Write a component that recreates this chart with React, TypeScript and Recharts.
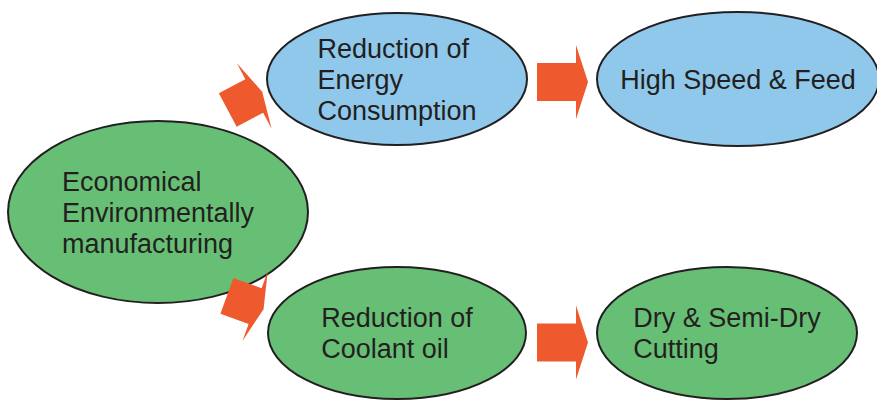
import { ScatterChart, Scatter, XAxis, YAxis } from "recharts";

// node labels and centres (in diagram units, 1 unit = 1px)
const nodeLabels = [
  ["Economical", "Environmentally", "manufacturing"],
  ["Reduction of", "Energy", "Consumption"],
  ["High Speed & Feed"],
  ["Reduction of", "Coolant oil"],
  ["Dry & Semi-Dry", "Cutting"],
];
const nodeX = [158, 397, 738, 397, 727];
const nodeY = [212, 79, 79, 333, 333];
const nodeGroup = ["green", "blue", "blue", "green", "green"];

// arrows between nodes
const arrowX = [241, 556.5, 241, 556.5];
const arrowY = [103, 82, 301, 342.5];
const arrowAngle = [-28, 0, 20, 0];
const arrowKind = ["diagonal", "straight", "diagonal", "straight"];

const nodeSize = [
  { rx: 150, ry: 91 },
  { rx: 130, ry: 66 },
  { rx: 141, ry: 67 },
  { rx: 129, ry: 66 },
  { rx: 130, ry: 66 },
];
const fills: Record<string, string> = { green: "#67BF75", blue: "#8FC8EB" };
const arrowShape: Record<string, { len: number; head: number }> = {
  diagonal: { len: 30, head: 9 },
  straight: { len: 39, head: 12 },
};
const BODY_W = 38;
const HEAD_W = 74;
const INK = "#231F20";
const ORANGE = "#EE5A2E";

const nodes = nodeLabels.map((lines, i) => ({
  x: nodeX[i],
  y: nodeY[i],
  lines,
  group: nodeGroup[i],
  idx: i,
}));
const arrows = arrowX.map((x, i) => ({ x, y: arrowY[i], angle: arrowAngle[i], kind: arrowKind[i] }));

const NodeShape = (props: any) => {
  const { cx, cy, payload } = props;
  const { rx, ry } = nodeSize[payload.idx];
  return (
    <g>
      <ellipse cx={cx} cy={cy} rx={rx} ry={ry} fill={fills[payload.group]} stroke={INK} strokeWidth={2} />
      <foreignObject x={cx - rx} y={cy - ry} width={rx * 2} height={ry * 2}>
        <div
          style={{
            width: "100%",
            height: "100%",
            display: "flex",
            alignItems: "center",
            justifyContent: "center",
            fontFamily: "'Liberation Sans', Arial, sans-serif",
            fontSize: 27,
            lineHeight: "31px",
            color: INK,
          }}
        >
          <div style={{ textAlign: "left", whiteSpace: "nowrap", paddingTop: 2 }}>
            {payload.lines.map((l: string) => (
              <div key={l}>{l}</div>
            ))}
          </div>
        </div>
      </foreignObject>
    </g>
  );
};

const ArrowShape = (props: any) => {
  const { cx, cy, payload } = props;
  const { len, head } = arrowShape[payload.kind];
  const h = len / 2;
  const pts = [
    [-h, -BODY_W / 2],
    [h, -BODY_W / 2],
    [h, -HEAD_W / 2],
    [h + head, 0],
    [h, HEAD_W / 2],
    [h, BODY_W / 2],
    [-h, BODY_W / 2],
  ]
    .map((p) => p.join(","))
    .join(" ");
  return <polygon points={pts} fill={ORANGE} transform={`translate(${cx},${cy}) rotate(${payload.angle})`} />;
};

export default function App() {
  return (
    <div style={{ position: "absolute", left: 0, top: 0, background: "#fff" }}>
      <ScatterChart width={877} height={400} margin={{ top: 0, right: 0, bottom: 0, left: 0 }}>
        <XAxis type="number" dataKey="x" domain={[0, 877]} hide />
        <YAxis type="number" dataKey="y" domain={[0, 400]} reversed hide />
        <Scatter data={nodes} shape={NodeShape} isAnimationActive={false} />
        <Scatter data={arrows} shape={ArrowShape} isAnimationActive={false} />
      </ScatterChart>
    </div>
  );
}
